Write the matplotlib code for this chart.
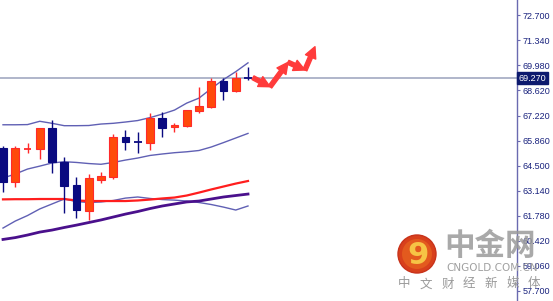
import matplotlib
matplotlib.use("Agg")
import matplotlib.pyplot as plt
import matplotlib.patches as mpatches
import matplotlib.transforms as mtransforms

# candle data (oldest -> newest)
opens = [65.46, 63.61, 65.41, 65.41, 66.55, 64.70, 63.45, 62.04, 63.72, 63.89, 66.06,
         65.81, 65.74, 67.10, 66.61, 66.66, 67.48, 67.69, 69.11, 68.57, 69.28]
highs = [65.60, 65.57, 65.74, 66.57, 66.99, 64.97, 63.89, 64.05, 64.16, 66.23, 66.44,
         66.33, 67.37, 67.42, 66.82, 67.56, 68.78, 69.27, 69.27, 69.60, 69.87]
lows = [63.07, 63.34, 65.19, 64.87, 64.10, 61.93, 61.66, 61.55, 63.56, 63.78, 65.35,
        65.19, 65.35, 66.06, 66.33, 66.61, 67.37, 67.66, 68.08, 68.51, 69.16]
closes = [63.61, 65.46, 65.45, 66.55, 64.70, 63.40, 62.09, 63.83, 63.94, 66.06, 65.79,
          65.75, 67.10, 66.55, 66.72, 67.53, 67.75, 69.11, 68.57, 69.27, 69.26]

# bollinger bands
boll_upper = [66.73, 66.73, 66.74, 66.92, 66.81, 66.68, 66.68, 66.69, 66.77, 66.81, 66.88,
              66.96, 67.12, 67.31, 67.53, 67.91, 68.18, 68.70, 69.19, 69.62, 70.10]
boll_mid = [63.83, 64.05, 64.32, 64.48, 64.65, 64.72, 64.68, 64.62, 64.58, 64.68, 64.81,
            64.92, 65.06, 65.14, 65.21, 65.26, 65.33, 65.52, 65.76, 66.01, 66.26]
boll_lower = [61.11, 61.49, 61.79, 62.15, 62.42, 62.69, 62.55, 62.50, 62.53, 62.61, 62.74,
              62.80, 62.72, 62.66, 62.63, 62.58, 62.50, 62.39, 62.25, 62.09, 62.31]

# moving averages
ma_red = [62.67, 62.68, 62.68, 62.69, 62.69, 62.69, 62.61, 62.58, 62.58, 62.58, 62.58,
          62.61, 62.66, 62.72, 62.77, 62.88, 63.04, 63.21, 63.37, 63.53, 63.67]
ma_purple = [60.49, 60.59, 60.73, 60.89, 61.00, 61.14, 61.27, 61.41, 61.55, 61.71, 61.87,
             62.01, 62.17, 62.31, 62.42, 62.53, 62.58, 62.69, 62.80, 62.88, 62.96]

# forecast zig-zag (red arrows)
forecast_x = [20.41, 21.8, 23.27, 24.65, 25.47]
forecast_y = [69.29, 68.80, 70.13, 69.71, 70.98]

current_price = 69.27
y_ticks = [72.70, 71.34, 69.98, 68.62, 67.22, 65.86, 64.50, 63.14, 61.78, 60.42, 59.06, 57.70]

UP_FILL = "#ff4a0a"
UP_EDGE = "#ff2a2a"
DOWN = "#0a0a80"
BAND = "#6060b4"

fig = plt.figure(figsize=(5.53, 3.01), dpi=100)
ax = fig.add_axes([0, 0, 517 / 553, 1])

# indicator lines
idx = list(range(len(opens)))
ax.plot(idx, boll_upper, color=BAND, lw=1.0, zorder=1)
ax.plot(idx, boll_mid, color=BAND, lw=1.0, zorder=1)
ax.plot(idx, boll_lower, color=BAND, lw=1.0, zorder=1)
ax.plot(idx, ma_red, color="#ff1e1e", lw=1.6, zorder=1)
ax.plot(idx, ma_purple, color="#4a108c", lw=2.0, zorder=1)

# current price line
ax.axhline(current_price, color="#a9b0c6", lw=1.3, zorder=0.5)

# candles
width = 0.62
for i in idx:
    o, h, l, c = opens[i], highs[i], lows[i], closes[i]
    up = c >= o
    wick_col = UP_EDGE if up else DOWN
    ax.vlines(i, l, h, color=wick_col, lw=1.0, zorder=2)
    body = abs(c - o)
    if body < 0.08:
        ax.hlines((o + c) / 2, i - width / 2, i + width / 2, color=wick_col, lw=1.3, zorder=3)
    else:
        ax.bar(i, body, bottom=min(o, c), width=width,
               color=UP_FILL if up else DOWN,
               edgecolor=UP_EDGE if up else DOWN, lw=0.8, zorder=3)

# forecast arrows
for k in range(len(forecast_x) - 1):
    ax.annotate("", xy=(forecast_x[k + 1], forecast_y[k + 1]),
                xytext=(forecast_x[k], forecast_y[k]),
                arrowprops=dict(arrowstyle="simple,head_length=0.8,head_width=0.8,tail_width=0.3",
                                color="#ff3b3b", shrinkA=0, shrinkB=0, mutation_scale=10),
                zorder=4)

# axes styling
ax.set_xlim(-0.245, 41.96)
ax.set_ylim(57.14, 73.52)
for side in ["left", "top", "bottom"]:
    ax.spines[side].set_visible(False)
ax.spines["right"].set_color("#6a6ab0")
ax.spines["right"].set_linewidth(1.0)
ax.set_xticks([])
ax.yaxis.tick_right()
ax.set_yticks(y_ticks)
ax.set_yticklabels([f"{v:.3f}" for v in y_ticks], family="Liberation Sans", fontsize=6.5)
ax.tick_params(axis="y", direction="out", length=2, width=0.8, colors="#6a6ab0",
               labelcolor="#1a237e", pad=2)

# current price tag
trans = mtransforms.blended_transform_factory(ax.transAxes, ax.transData)
ax.text(1.003, current_price, "69.270", transform=trans, ha="left", va="center",
        fontsize=6.5, family="Liberation Sans", color="white", clip_on=False,
        bbox=dict(boxstyle="square,pad=0.15", fc="#0d1a6e", ec="#0d1a6e"))

# watermark
logo_x, logo_y = 417 / 553, 1 - 254 / 301
fig.patches.append(mpatches.Ellipse((logo_x, logo_y), 38 / 553, 38 / 301,
                                    transform=fig.transFigure, fc="#d8401c", ec="#c8321a",
                                    lw=1, zorder=5))
fig.patches.append(mpatches.Ellipse((logo_x, logo_y), 30 / 553, 30 / 301,
                                    transform=fig.transFigure, fc="#e35a1e", ec="none",
                                    zorder=5))
fig.text(logo_x + 0.002, logo_y - 0.005, "9", ha="center", va="center", fontsize=22,
         fontweight="bold", color="#f6c445", family="DejaVu Sans", zorder=6)
fig.text(490 / 553, 1 - 246 / 301, "中金网", ha="center", va="center", fontsize=22,
         fontweight="bold", color="#9a9a9a", alpha=0.85,
         family=["Noto Sans CJK SC", "DejaVu Sans"], zorder=6)
fig.text(492 / 553, 1 - 268 / 301, "CNGOLD.COM.CN", ha="center", va="center", fontsize=7.5,
         color="#a0a0a0", family="DejaVu Sans", zorder=6)
for k, ch in enumerate("中文财经新媒体"):
    fig.text((404 + k * 21.7) / 553, 1 - 284 / 301, ch, ha="center", va="center", fontsize=9,
             color="#9a9a9a", family=["Noto Sans CJK SC", "DejaVu Sans"], zorder=6)

fig.savefig("out.png", dpi=100)
